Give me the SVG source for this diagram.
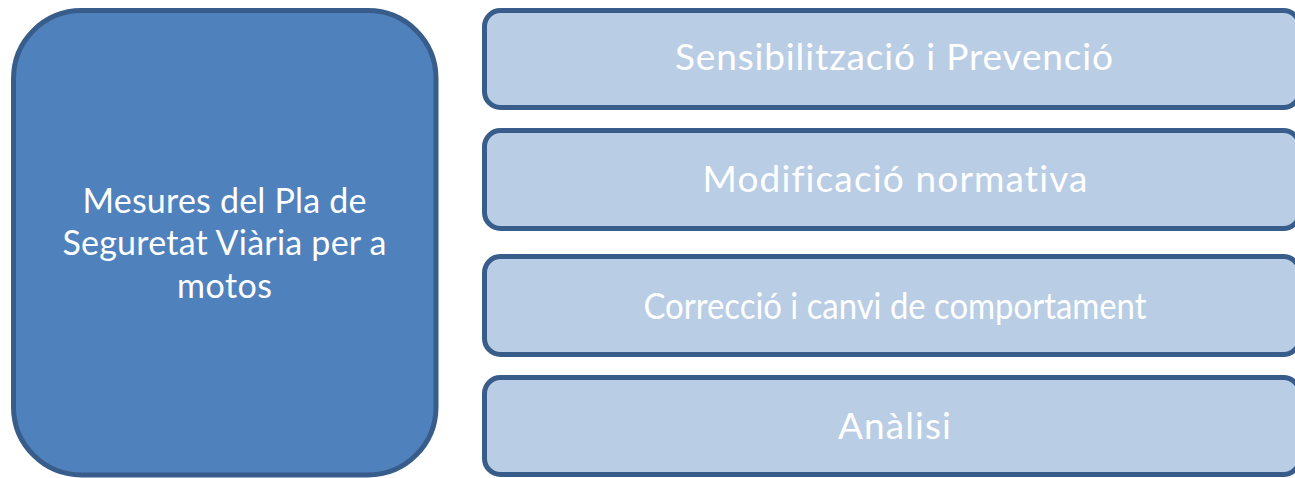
<svg xmlns="http://www.w3.org/2000/svg" width="1295" height="478" viewBox="0 0 1295 478">
  <style>
    .main { fill: #4F81BD; stroke: #385D8A; stroke-width: 5; }
    .item { fill: #B9CDE5; stroke: #385D8A; stroke-width: 5; }
    .t { font-family: Lato, "Open Sans", "Liberation Sans", sans-serif; fill: #FFFFFF; text-anchor: middle; font-variant-ligatures: none; }
    .tl { font-size: 34px; }
    .tr { font-size: 37px; }
  </style>
  <rect width="1295" height="478" fill="#FFFFFF"/>
  <g id="node-main">
    <rect class="main" x="13.5" y="10.5" width="422.5" height="464.5" rx="68" ry="68"/>
    <text class="t tl" x="224.5" y="213" textLength="284" lengthAdjust="spacing">Mesures del Pla de</text>
    <text class="t tl" x="224.5" y="255" textLength="324" lengthAdjust="spacing">Seguretat Viària per a</text>
    <text class="t tl" x="224.5" y="298" textLength="95" lengthAdjust="spacing">motos</text>
  </g>
  <g id="node-sensibilitzacio">
    <rect class="item" x="484.5" y="10.5" width="815" height="97" rx="16" ry="16"/>
    <text class="t tr" x="894" y="70" textLength="438" lengthAdjust="spacing">Sensibilització i Prevenció</text>
  </g>
  <g id="node-modificacio">
    <rect class="item" x="484.5" y="130.5" width="815" height="98" rx="16" ry="16"/>
    <text class="t tr" x="895" y="192" textLength="385" lengthAdjust="spacing">Modificació normativa</text>
  </g>
  <g id="node-correccio">
    <rect class="item" x="484.5" y="256.5" width="815" height="98" rx="16" ry="16"/>
    <text class="t tr" x="895" y="319" style="font-size:36px" textLength="503" lengthAdjust="spacingAndGlyphs">Correcció i canvi de comportament</text>
  </g>
  <g id="node-analisi">
    <rect class="item" x="484.5" y="377.5" width="815" height="97" rx="16" ry="16"/>
    <text class="t tr" x="894.5" y="439" textLength="113" lengthAdjust="spacing">Anàlisi</text>
  </g>
  <g id="connectors"></g>
</svg>
